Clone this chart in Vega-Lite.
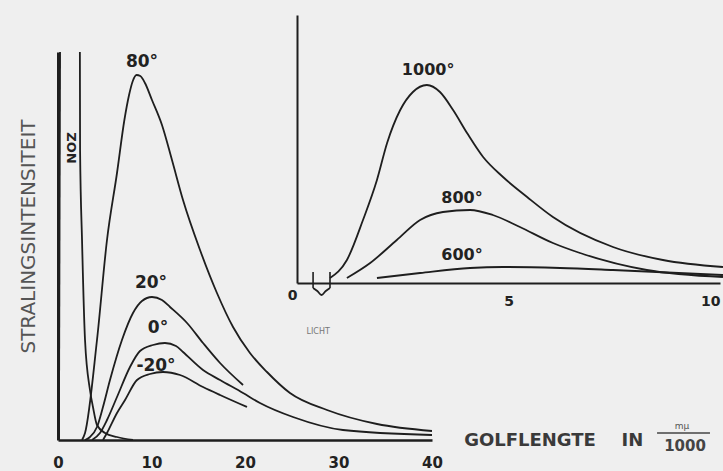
{
  "$schema": "https://vega.github.io/schema/vega-lite/v6.json",
  "width": 662,
  "height": 425,
  "autosize": "none",
  "padding": {"left": 58, "top": 15, "right": 3, "bottom": 31},
  "background": "#efefef",
  "config": {"view": {"stroke": null}, "font": "DejaVu Sans"},
  "datasets": {
    "main": [
      {"series": "80", "x": 2.57, "y": 0}, {"series": "80", "x": 2.89, "y": 7}, {"series": "80", "x": 4.17, "y": 100}, {"series": "80", "x": 5.24, "y": 200}, {"series": "80", "x": 6.31, "y": 267}, {"series": "80", "x": 7.1, "y": 320}, {"series": "80", "x": 7.6, "y": 345}, {"series": "80", "x": 8.0, "y": 359}, {"series": "80", "x": 8.4, "y": 365}, {"series": "80", "x": 8.8, "y": 364}, {"series": "80", "x": 9.3, "y": 357}, {"series": "80", "x": 10.05, "y": 340}, {"series": "80", "x": 11.12, "y": 315}, {"series": "80", "x": 12.19, "y": 280}, {"series": "80", "x": 13.37, "y": 240}, {"series": "80", "x": 15.19, "y": 190}, {"series": "80", "x": 17.0, "y": 147}, {"series": "80", "x": 18.72, "y": 113}, {"series": "80", "x": 20.53, "y": 87}, {"series": "80", "x": 22.35, "y": 68}, {"series": "80", "x": 24.81, "y": 47}, {"series": "80", "x": 28.77, "y": 30}, {"series": "80", "x": 34.12, "y": 16}, {"series": "80", "x": 40, "y": 9},
      {"series": "20", "x": 2.89, "y": 0}, {"series": "20", "x": 3.42, "y": 3}, {"series": "20", "x": 4.17, "y": 13}, {"series": "20", "x": 4.81, "y": 33}, {"series": "20", "x": 5.56, "y": 60}, {"series": "20", "x": 6.84, "y": 100}, {"series": "20", "x": 8.02, "y": 127}, {"series": "20", "x": 8.98, "y": 139}, {"series": "20", "x": 10.05, "y": 143}, {"series": "20", "x": 11.12, "y": 140}, {"series": "20", "x": 11.98, "y": 133}, {"series": "20", "x": 13.8, "y": 117}, {"series": "20", "x": 15.51, "y": 97}, {"series": "20", "x": 17.33, "y": 77}, {"series": "20", "x": 19.79, "y": 55},
      {"series": "0", "x": 3.64, "y": 0}, {"series": "0", "x": 4.49, "y": 7}, {"series": "0", "x": 5.24, "y": 20}, {"series": "0", "x": 6.31, "y": 43}, {"series": "0", "x": 7.7, "y": 73}, {"series": "0", "x": 8.77, "y": 89}, {"series": "0", "x": 10.16, "y": 95}, {"series": "0", "x": 11.44, "y": 97}, {"series": "0", "x": 12.62, "y": 94}, {"series": "0", "x": 13.37, "y": 88}, {"series": "0", "x": 15.51, "y": 70}, {"series": "0", "x": 17.33, "y": 60}, {"series": "0", "x": 19.79, "y": 47}, {"series": "0", "x": 21.6, "y": 37}, {"series": "0", "x": 25.13, "y": 23}, {"series": "0", "x": 30.48, "y": 10}, {"series": "0", "x": 40, "y": 5},
      {"series": "-20", "x": 4.81, "y": 0}, {"series": "-20", "x": 5.24, "y": 7}, {"series": "-20", "x": 6.31, "y": 27}, {"series": "-20", "x": 7.17, "y": 40}, {"series": "-20", "x": 8.45, "y": 60}, {"series": "-20", "x": 9.84, "y": 66}, {"series": "-20", "x": 11.23, "y": 68}, {"series": "-20", "x": 13.05, "y": 65}, {"series": "-20", "x": 15.51, "y": 53}, {"series": "-20", "x": 17.33, "y": 45}, {"series": "-20", "x": 20.21, "y": 33},
      {"series": "ZON-a", "x": 0.1, "y": 0}, {"series": "ZON-a", "x": 0.22, "y": 388},
      {"series": "ZON-b", "x": 2.34, "y": 388}, {"series": "ZON-b", "x": 2.36, "y": 290}, {"series": "ZON-b", "x": 2.57, "y": 200}, {"series": "ZON-b", "x": 2.89, "y": 100}, {"series": "ZON-b", "x": 3.42, "y": 50}, {"series": "ZON-b", "x": 3.74, "y": 33}, {"series": "ZON-b", "x": 4.17, "y": 15}, {"series": "ZON-b", "x": 5.03, "y": 7}, {"series": "ZON-b", "x": 6.31, "y": 3}, {"series": "ZON-b", "x": 8.02, "y": 0}
    ],
    "mainLabels": [
      {"label": "80°", "x": 8.98, "y": 378},
      {"label": "20°", "x": 9.95, "y": 157},
      {"label": "0°", "x": 10.7, "y": 112},
      {"label": "-20°", "x": 10.48, "y": 74}
    ],
    "zon": [{"label": "ZON", "x": 1.36, "y": 292}],
    "xtitle": [
      {"label": "GOLFLENGTE", "x": 50.48, "y": -1},
      {"label": "IN", "x": 61.44, "y": -1}
    ],
    "fracTop": [{"label": "mμ", "x": 66.74, "y": 14}],
    "fracBottom": [{"label": "1000", "x": 67.06, "y": -6}],
    "fracLine": [{"x": 64.07, "x2": 69.73, "y": 7}],
    "inset": [
      {"series": "1000", "x": 0.78, "y": 5}, {"series": "1000", "x": 1.18, "y": 23}, {"series": "1000", "x": 1.56, "y": 63}, {"series": "1000", "x": 1.89, "y": 103}, {"series": "1000", "x": 2.13, "y": 140}, {"series": "1000", "x": 2.44, "y": 173}, {"series": "1000", "x": 2.74, "y": 191}, {"series": "1000", "x": 3.07, "y": 198}, {"series": "1000", "x": 3.38, "y": 191}, {"series": "1000", "x": 3.69, "y": 173}, {"series": "1000", "x": 4.02, "y": 150}, {"series": "1000", "x": 4.4, "y": 126}, {"series": "1000", "x": 4.87, "y": 106}, {"series": "1000", "x": 5.44, "y": 86}, {"series": "1000", "x": 6.05, "y": 66}, {"series": "1000", "x": 7.47, "y": 36}, {"series": "1000", "x": 8.65, "y": 23}, {"series": "1000", "x": 10.07, "y": 16},
      {"series": "800", "x": 1.18, "y": 5}, {"series": "800", "x": 1.73, "y": 20}, {"series": "800", "x": 2.36, "y": 43}, {"series": "800", "x": 2.91, "y": 63}, {"series": "800", "x": 3.45, "y": 71}, {"series": "800", "x": 4.09, "y": 73}, {"series": "800", "x": 4.63, "y": 68}, {"series": "800", "x": 5.27, "y": 56}, {"series": "800", "x": 6.05, "y": 40}, {"series": "800", "x": 6.69, "y": 30}, {"series": "800", "x": 8.27, "y": 13}, {"series": "800", "x": 10.07, "y": 6},
      {"series": "600", "x": 1.89, "y": 5}, {"series": "600", "x": 2.91, "y": 10}, {"series": "600", "x": 4.09, "y": 15}, {"series": "600", "x": 4.87, "y": 16}, {"series": "600", "x": 6.22, "y": 15}, {"series": "600", "x": 7.47, "y": 13}, {"series": "600", "x": 10.07, "y": 8},
      {"series": "bracket", "x": 0.38, "y": -5}, {"series": "bracket", "x": 0.48, "y": -8}, {"series": "bracket", "x": 0.58, "y": -12}, {"series": "bracket", "x": 0.68, "y": -8}, {"series": "bracket", "x": 0.78, "y": -5}
    ],
    "lichtTicks": [
      {"x": 0.38, "y": -5, "y2": 11},
      {"x": 0.78, "y": -5, "y2": 11}
    ],
    "insetLabels": [
      {"label": "1000°", "x": 3.1, "y": 213},
      {"label": "800°", "x": 3.9, "y": 85},
      {"label": "600°", "x": 3.9, "y": 28}
    ],
    "licht": [{"label": "LICHT", "x": 0.5, "y": -49}]
  },
  "layer": [
    {
      "layer": [
        {
          "data": {"name": "main"},
          "mark": {"type": "line", "color": "#1e1e1e", "strokeWidth": 1.8, "interpolate": "monotone"},
          "encoding": {
            "x": {"field": "x", "type": "quantitative", "title": null, "scale": {"domain": [0, 40], "range": [0, 374], "nice": false, "zero": false},
              "axis": {"orient": "bottom", "values": [0, 10, 20, 30, 40], "ticks": false, "tickSize": 0, "grid": false, "labelFlush": false, "labelOverlap": false, "labelBound": false, "labelFontSize": 15, "labelFontWeight": "bold", "labelColor": "#222", "labelPadding": 15, "domainColor": "#1e1e1e", "domainWidth": 2.5, "format": "d"}},
            "y": {"field": "y", "type": "quantitative", "title": "STRALINGSINTENSITEIT", "scale": {"domain": [0, 388], "range": [425, 37], "nice": false, "zero": false},
              "axis": {"orient": "left", "ticks": false, "labels": false, "grid": false, "domainColor": "#1e1e1e", "domainWidth": 3, "titleX": -30, "titleY": 221, "titleAngle": -90, "titleAlign": "center", "titleBaseline": "middle", "titleFontSize": 20, "titleFontWeight": "normal", "titleColor": "#555", "titleFont": "DejaVu Sans"}},
            "detail": {"field": "series"}
          }
        },
        {
          "data": {"name": "mainLabels"},
          "mark": {"type": "text", "fontSize": 17, "fontWeight": "bold", "color": "#222"},
          "encoding": {
            "x": {"field": "x", "type": "quantitative", "title": null, "scale": {"domain": [0, 40], "range": [0, 374], "nice": false, "zero": false}},
            "y": {"field": "y", "type": "quantitative", "title": "STRALINGSINTENSITEIT", "scale": {"domain": [0, 388], "range": [425, 37], "nice": false, "zero": false}},
            "text": {"field": "label"}
          }
        },
        {
          "data": {"name": "zon"},
          "mark": {"type": "text", "fontSize": 13, "fontWeight": "bold", "color": "#222", "angle": 90},
          "encoding": {
            "x": {"field": "x", "type": "quantitative", "title": null, "scale": {"domain": [0, 40], "range": [0, 374], "nice": false, "zero": false}},
            "y": {"field": "y", "type": "quantitative", "title": "STRALINGSINTENSITEIT", "scale": {"domain": [0, 388], "range": [425, 37], "nice": false, "zero": false}},
            "text": {"field": "label"}
          }
        },
        {
          "data": {"name": "xtitle"},
          "mark": {"type": "text", "fontSize": 18, "fontWeight": "bold", "color": "#3a3a3a"},
          "encoding": {
            "x": {"field": "x", "type": "quantitative", "title": null, "scale": {"domain": [0, 40], "range": [0, 374], "nice": false, "zero": false}},
            "y": {"field": "y", "type": "quantitative", "title": "STRALINGSINTENSITEIT", "scale": {"domain": [0, 388], "range": [425, 37], "nice": false, "zero": false}},
            "text": {"field": "label"}
          }
        },
        {
          "data": {"name": "fracTop"},
          "mark": {"type": "text", "fontSize": 9, "color": "#555"},
          "encoding": {
            "x": {"field": "x", "type": "quantitative", "title": null, "scale": {"domain": [0, 40], "range": [0, 374], "nice": false, "zero": false}},
            "y": {"field": "y", "type": "quantitative", "title": "STRALINGSINTENSITEIT", "scale": {"domain": [0, 388], "range": [425, 37], "nice": false, "zero": false}},
            "text": {"field": "label"}
          }
        },
        {
          "data": {"name": "fracBottom"},
          "mark": {"type": "text", "fontSize": 15, "fontWeight": "bold", "color": "#444"},
          "encoding": {
            "x": {"field": "x", "type": "quantitative", "title": null, "scale": {"domain": [0, 40], "range": [0, 374], "nice": false, "zero": false}},
            "y": {"field": "y", "type": "quantitative", "title": "STRALINGSINTENSITEIT", "scale": {"domain": [0, 388], "range": [425, 37], "nice": false, "zero": false}},
            "text": {"field": "label"}
          }
        },
        {
          "data": {"name": "fracLine"},
          "mark": {"type": "rule", "color": "#444", "strokeWidth": 1.5},
          "encoding": {
            "x": {"field": "x", "type": "quantitative", "title": null, "scale": {"domain": [0, 40], "range": [0, 374], "nice": false, "zero": false}},
            "x2": {"field": "x2"},
            "y": {"field": "y", "type": "quantitative", "title": "STRALINGSINTENSITEIT", "scale": {"domain": [0, 388], "range": [425, 37], "nice": false, "zero": false}}
          }
        }
      ]
    },
    {
      "layer": [
        {
          "data": {"name": "inset"},
          "mark": {"type": "line", "color": "#1e1e1e", "strokeWidth": 1.8, "interpolate": "monotone"},
          "encoding": {
            "x": {"field": "x", "type": "quantitative", "scale": {"domain": [0, 10], "range": [239, 662], "nice": false, "zero": false},
              "axis": {"orient": "bottom", "offset": -157, "values": [0, 5, 10], "ticks": false, "tickSize": 0, "grid": false, "labelFlush": false, "labelOverlap": false, "labelBound": false, "labelFontSize": 14, "labelFontWeight": "bold", "labelColor": "#222", "labelPadding": {"condition": {"test": "datum.value == 0", "value": 5}, "value": 11}, "labelAlign": {"condition": [{"test": "datum.value == 0", "value": "right"}, {"test": "datum.value == 10", "value": "right"}], "value": "center"}, "domainColor": "#1e1e1e", "domainWidth": 2, "title": null, "format": "d"}},
            "y": {"field": "y", "type": "quantitative", "scale": {"domain": [0, 268], "range": [268, 0], "nice": false, "zero": false},
              "axis": {"orient": "left", "offset": -239, "ticks": false, "labels": false, "grid": false, "domainColor": "#1e1e1e", "domainWidth": 2, "title": null}},
            "detail": {"field": "series"}
          }
        },
        {
          "data": {"name": "lichtTicks"},
          "mark": {"type": "rule", "color": "#1e1e1e", "strokeWidth": 1.6},
          "encoding": {
            "x": {"field": "x", "type": "quantitative", "title": null, "scale": {"domain": [0, 10], "range": [239, 662], "nice": false, "zero": false}},
            "y": {"field": "y", "type": "quantitative", "title": null, "scale": {"domain": [0, 268], "range": [268, 0], "nice": false, "zero": false}},
            "y2": {"field": "y2"}
          }
        },
        {
          "data": {"name": "insetLabels"},
          "mark": {"type": "text", "fontSize": 16, "fontWeight": "bold", "color": "#222"},
          "encoding": {
            "x": {"field": "x", "type": "quantitative", "title": null, "scale": {"domain": [0, 10], "range": [239, 662], "nice": false, "zero": false}},
            "y": {"field": "y", "type": "quantitative", "title": null, "scale": {"domain": [0, 268], "range": [268, 0], "nice": false, "zero": false}},
            "text": {"field": "label"}
          }
        },
        {
          "data": {"name": "licht"},
          "mark": {"type": "text", "fontSize": 8, "color": "#777"},
          "encoding": {
            "x": {"field": "x", "type": "quantitative", "title": null, "scale": {"domain": [0, 10], "range": [239, 662], "nice": false, "zero": false}},
            "y": {"field": "y", "type": "quantitative", "title": null, "scale": {"domain": [0, 268], "range": [268, 0], "nice": false, "zero": false}},
            "text": {"field": "label"}
          }
        }
      ]
    }
  ],
  "resolve": {"scale": {"x": "independent", "y": "independent"}, "axis": {"x": "independent", "y": "independent"}}
}
